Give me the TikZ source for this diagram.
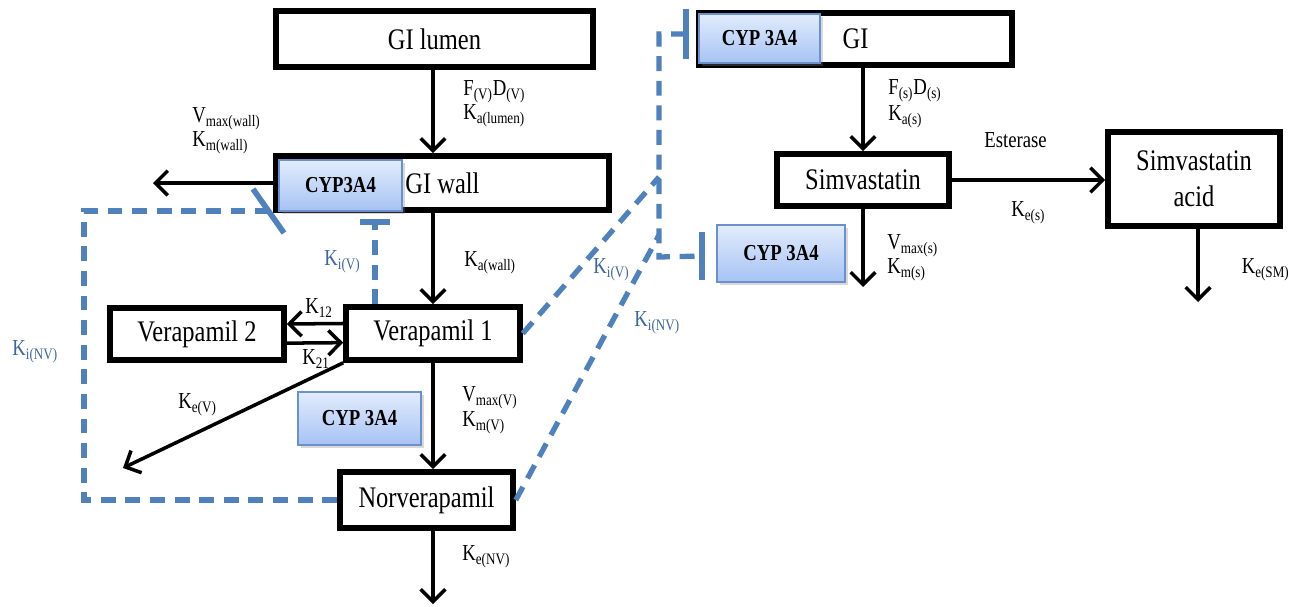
\documentclass[tikz,border=0pt]{standalone}
\usepackage{fontspec}
\setmainfont{Liberation Serif}[FakeStretch=0.82]
\usepackage{tikz}
\usetikzlibrary{arrows.meta,shadows}

\definecolor{cyptop}{HTML}{E2ECFC}
\definecolor{cypbot}{HTML}{A6C3F4}
\definecolor{cypline}{HTML}{6C90CC}
\definecolor{inhblue}{HTML}{4F81BD}
\definecolor{kiblue}{HTML}{3B64A0}

\begin{document}
\begin{tikzpicture}[x=0.02cm,y=-0.02cm,>={Straight Barb[length=7pt,width=14pt]},line join=miter]
\tikzstyle{box node}=[rectangle,draw,line width=3.2pt,inner sep=0,font=\fontsize{17}{20.5}\selectfont]
\tikzstyle{cyp node}=[rectangle,draw=cypline,line width=1.2pt,top color=cyptop,bottom color=cypbot,inner sep=0,drop shadow={shadow xshift=1.5pt,shadow yshift=-1.5pt,opacity=0.3},font=\bfseries\fontsize{13}{15}\selectfont]

\tikzset{
	rate label/.style={anchor=west,inner sep=0,font=\fontsize{13}{15}\selectfont},
	ki label/.style={rate label,text=kiblue},
	flow/.style={->,line width=2pt},
	inhib/.style={draw=inhblue,line width=3pt,dash pattern=on 8.5pt off 5.5pt},
	inhib bar/.style={draw=inhblue,line width=3.2pt}
}

\useasboundingbox (0,0) rectangle (1291,606);

% verapamil compartments
\node[box node,minimum width=6.34cm,minimum height=1.12cm] (lumen) at (434.5,39) {GI lumen};
\node[box node,minimum width=6.66cm,minimum height=1.08cm] (wall) at (442.5,183) {GI wall};
\node[cyp node,minimum width=2.46cm,minimum height=1.02cm] (cypwall) at (340.5,185.5) {CYP3A4};
\node[box node,minimum width=3.48cm,minimum height=1.06cm] (V1) at (433,333.5) {Verapamil 1};
\node[box node,minimum width=3.48cm,minimum height=1.04cm] (V2) at (197,334) {Verapamil 2};
\node[cyp node,minimum width=2.46cm,minimum height=1.06cm] (cypV) at (359.5,418.5) {CYP 3A4};
\node[box node,minimum width=3.46cm,minimum height=1.12cm] (NV) at (426.5,500) {Norverapamil};

% simvastatin compartments
\node[box node,minimum width=6.26cm,minimum height=1.04cm] (GIs) at (855.5,39) {GI};
\node[cyp node,minimum width=2.42cm,minimum height=0.98cm] (cypGI) at (759.5,38.5) {CYP 3A4};
\node[box node,minimum width=3.44cm,minimum height=1.04cm] (S) at (863,180) {Simvastatin};
\node[box node,minimum width=3.44cm,minimum height=1.88cm,align=center] (SA) at (1194,179) {Simvastatin\\acid};
\node[cyp node,minimum width=2.56cm,minimum height=1.14cm] (cypS) at (781,253.5) {CYP 3A4};

\coordinate (wallout) at (153,183);
\coordinate (vout) at (123,468);
\coordinate (nvout) at (433,604);
\coordinate (sout) at (863,287);
\coordinate (saout) at (1198,302);

\path[flow] (lumen.south -| V1) edge (wall.north -| V1)
	(wall.south -| V1) edge (V1.north)
	(wall.west) edge (wallout)
	([yshift=5.7pt]V1.west) edge ([yshift=5.7pt]V2.east)
	([yshift=-5.2pt]V2.east) edge ([yshift=-5.2pt]V1.west)
	(V1.south west) edge (vout)
	(V1.south) edge (NV.north -| V1)
	(NV.south -| V1) edge (nvout)
	(GIs.south -| S) edge (S.north)
	(S.east) edge (S.east -| SA.west)
	(S.south) edge (sout)
	(SA.south -| saout) edge (saout);

% inhibition lines
\coordinate (kiv) at (375,222);
\coordinate (lc) at (84,211);
\coordinate (tw) at (268,211);
\coordinate (jm) at (659,177);
\coordinate (jn) at (659,235);
\coordinate (jb) at (659,257);
\coordinate (bt) at (686,34);
\coordinate (bb) at (702,256);

\draw[inhib] (V1.north -| kiv) -- (kiv);
\draw[inhib bar] ([xshift=-8.8pt]kiv) -- ([xshift=8.8pt]kiv);
\draw[inhib] (NV.west) -| (lc) -- (tw);
\draw[inhib bar] ([shift={(-15,-22)}]tw) -- ([shift={(16,22)}]tw);
\draw[inhib] (V1.east) -- (jm);
\draw[inhib] (NV.east) -- (jn);
\draw[inhib] (bt) -| (jb) -- (bb);
\draw[inhib bar] ([yshift=14.5pt]bt) -- ([yshift=-14.5pt]bt);
\draw[inhib bar] ([yshift=13.5pt]bb) -- ([yshift=-13.5pt]bb);

% rate constants
\node[rate label] (fv) at (463,92) {F\textsubscript{(V)}D\textsubscript{(V)}};
\node[rate label] (kal) at (463,116) {K\textsubscript{a(lumen)}};
\node[rate label] (vmw) at (192,119) {V\textsubscript{max(wall)}};
\node[rate label] (kmw) at (192,143) {K\textsubscript{m(wall)}};
\node[rate label] (kaw) at (464,263) {K\textsubscript{a(wall)}};
\node[rate label] (k12) at (305,308) {K\textsubscript{12}};
\node[rate label] (k21) at (302,359) {K\textsubscript{21}};
\node[rate label] (kev) at (178,405) {K\textsubscript{e(V)}};
\node[rate label] (vmv) at (462,398) {V\textsubscript{max(V)}};
\node[rate label] (kmv) at (462,423) {K\textsubscript{m(V)}};
\node[rate label] (kenv) at (462,557) {K\textsubscript{e(NV)}};
\node[ki label] (kiv1) at (324,262) {K\textsubscript{i(V)}};
\node[ki label] (kinv1) at (12,352) {K\textsubscript{i(NV)}};
\node[ki label] (kiv2) at (593,270) {K\textsubscript{i(V)}};
\node[ki label] (kinv2) at (634,323) {K\textsubscript{i(NV)}};
\node[rate label] (fs) at (888,91) {F\textsubscript{(s)}D\textsubscript{(s)}};
\node[rate label] (kas) at (888,117) {K\textsubscript{a(s)}};
\node[rate label] (est) at (984,140) {Esterase};
\node[rate label] (kes) at (1011,213) {K\textsubscript{e(s)}};
\node[rate label] (vms) at (887,246) {V\textsubscript{max(s)}};
\node[rate label] (kms) at (887,270) {K\textsubscript{m(s)}};
\node[rate label,anchor=east] (kesm) at (1290,270) {K\textsubscript{e(SM)}};
\end{tikzpicture}
\end{document}
